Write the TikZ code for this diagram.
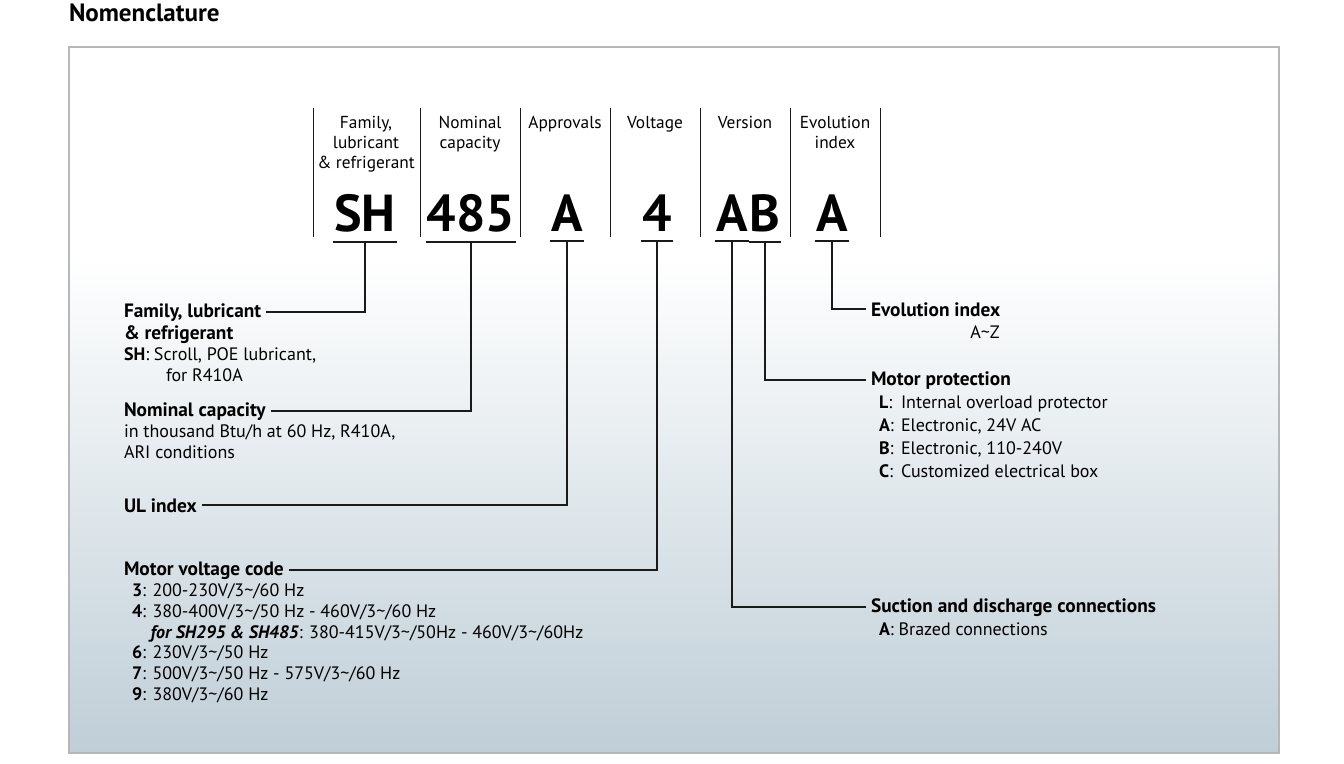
\documentclass[tikz,border=0pt]{standalone}
\usepackage{fontspec}
\setmainfont{PT Sans}
\usetikzlibrary{positioning}
\definecolor{cline}{HTML}{1A1A1A}
\definecolor{cframe}{HTML}{B4B8BB}
\definecolor{cbgbot}{HTML}{BFCED7}
\pgfdeclareverticalshading{nomshade}{100bp}{color(0bp)=(cbgbot); color(25bp)=(cbgbot); color(60bp)=(white); color(100bp)=(white)}
\tikzset{
  every picture/.style={line width=1.5pt},
  codeletter/.style={font=\fontsize{39}{39}\selectfont\bfseries, inner xsep=0pt, inner ysep=6.75pt, anchor=base},
  colhead/.style={font=\fontsize{13}{15}\selectfont, align=center, inner sep=0pt, anchor=north},
  head/.style={font=\fontsize{14.5}{15.75}\selectfont\bfseries, inner xsep=3pt, inner ysep=0pt, anchor=base west},
  note/.style={font=\fontsize{13.5}{15.75}\selectfont, align=left, inner sep=0pt, anchor=north west},
  conn/.style={draw=cline, line width=1.5pt},
  sep/.style={draw=cline, line width=0.75pt},
}

\begin{document}
\begin{tikzpicture}[x=0.75pt, y=-0.75pt]
  \useasboundingbox (0,0) rectangle (1344,763);
  % title and the shaded panel
  \node[font=\fontsize{18.75}{20}\selectfont\bfseries, anchor=base west, inner sep=0pt] (title) at (68,22) {Nomenclature};
  \path[shading=nomshade, draw=cframe, line width=0.9pt] (69,47) rectangle (1279,753);
  % separators between the columns
  \foreach \x in {313,420,520,610,700,790,880}
    \draw[sep] (\x,108) -- (\x,237);
  % column heads
  \node[colhead] (hdFam) at (366,115) {Family,\\lubricant\\\& refrigerant};
  \node[colhead] (hdNom) at (470,115) {Nominal\\capacity};
  \node[colhead] (hdAppr) at (565,115) {Approvals};
  \node[colhead] (hdVolt) at (655,115) {Voltage};
  \node[colhead] (hdVer) at (745,115) {Version};
  \node[colhead] (hdEvo) at (835,115) {Evolution\\index};
  % the code itself
  \node[codeletter] (cSH) at (365,231) {SH};
  \node[codeletter] (cNum) at (471,231) {485};
  \node[codeletter] (cAppr) at (567,231) {A};
  \node[codeletter] (cVolt) at (657,231) {4};
  \node[codeletter] (cVerA) at (732,231) {A};
  \node[codeletter] (cVerB) at (765,231) {B};
  \node[codeletter] (cEvo) at (832,231) {A};
  \foreach \c in {cSH,cNum,cAppr,cVolt,cVerA,cVerB,cEvo}
    \draw[conn] (\c.south west) -- (\c.south east);
  % left-hand descriptions
  \node[head] (hFam) at (119,317) {Family, lubricant};
  \node[note] (tFam) at (123,325) {{\fontsize{14.5}{15.75}\selectfont\bfseries\& refrigerant}\\\textbf{SH}: Scroll, POE lubricant,\\\hspace*{31.5pt}for R410A};
  \node[head] (hNom) at (119,416) {Nominal capacity};
  \node[note] (tNom) at (123,424) {in thousand Btu/h at 60 Hz, R410A,\\ARI conditions};
  \node[head] (hUL) at (119,512) {UL index};
  \node[head] (hMot) at (119,575) {Motor voltage code};
  \node[note, font=\fontsize{13.5}{15.5}\selectfont] (tMot) at (131,583) {\textbf{3}: 200-230V/3\textasciitilde/60 Hz\\
    \textbf{4}: 380-400V/3\textasciitilde/50 Hz - 460V/3\textasciitilde/60 Hz\\
    \hspace*{14pt}\textbf{\textit{for SH295 \& SH485}}: 380-415V/3\textasciitilde/50Hz - 460V/3\textasciitilde/60Hz\\
    \textbf{6}: 230V/3\textasciitilde/50 Hz\\
    \textbf{7}: 500V/3\textasciitilde/50 Hz - 575V/3\textasciitilde/60 Hz\\
    \textbf{9}: 380V/3\textasciitilde/60 Hz};
  % right-hand descriptions
  \node[head] (hEvo) at (866,316) {Evolution index};
  \node[note, anchor=base] (tEvo) at (985,338) {A\textasciitilde Z};
  \node[head] (hProt) at (866,385) {Motor protection};
  \node[note, font=\fontsize{13.5}{17.25}\selectfont] (tProt) at (878,395) {\makebox[16.5pt][l]{\textbf{L}:}Internal overload protector\\
    \makebox[16.5pt][l]{\textbf{A}:}Electronic, 24V AC\\
    \makebox[16.5pt][l]{\textbf{B}:}Electronic, 110-240V\\
    \makebox[16.5pt][l]{\textbf{C}:}Customized electrical box};
  \node[head] (hSuc) at (866,612) {Suction and discharge connections};
  \node[note] (tSuc) at (878,622) {\textbf{A}: Brazed connections};
  % connectors
  \draw[conn] (cSH.south) |- (hFam.east);
  \draw[conn] (cNum.south) |- (hNom.east);
  \draw[conn] (cAppr.south) |- (hUL.east);
  \draw[conn] (cVolt.south) |- (hMot.east);
  \draw[conn] (cVerA.south) |- (hSuc.west);
  \draw[conn] (cVerB.south) |- (hProt.west);
  \draw[conn] (cEvo.south) |- (hEvo.west);
\end{tikzpicture}
\end{document}
